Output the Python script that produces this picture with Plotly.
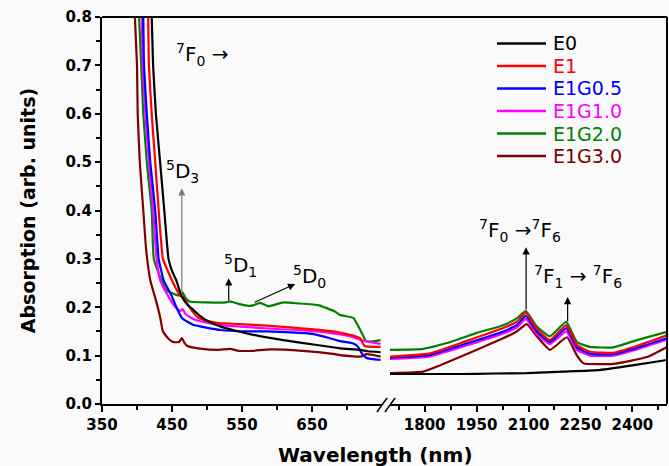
import plotly.graph_objects as go

# ---- series names and colours ----
series_names = ["E0", "E1", "E1G0.5", "E1G1.0", "E1G2.0", "E1G3.0"]
series_colors = ["#000000", "#ff0000", "#0000ff", "#ff00ff", "#008000", "#800000"]

# ---- visible region (nm, absorption) ----
e0_vis_nm = [421, 423, 427, 433, 439, 445, 450, 456, 464, 472, 480, 490, 500, 520, 537, 566, 609, 657, 690, 719, 730, 748]
e0_vis_abs = [0.80, 0.70, 0.60, 0.50, 0.40, 0.30, 0.275, 0.256, 0.222, 0.205, 0.195, 0.182, 0.172, 0.160, 0.153, 0.143, 0.132, 0.122, 0.115, 0.112, 0.109, 0.107]

e1_vis_nm = [416, 417, 421, 426, 431, 437, 444, 450, 456, 461, 464, 466, 473, 480, 488, 500, 514, 547, 585, 623, 680, 691, 712, 719, 725, 748]
e1_vis_abs = [0.80, 0.70, 0.60, 0.50, 0.40, 0.30, 0.275, 0.256, 0.238, 0.225, 0.222, 0.222, 0.205, 0.190, 0.178, 0.172, 0.168, 0.165, 0.162, 0.158, 0.150, 0.147, 0.140, 0.136, 0.120, 0.118]

e1g05_vis_nm = [409, 410, 414, 419, 426, 431, 438, 450, 455, 464, 480, 519, 557, 586, 620, 650, 676, 690, 709, 716, 721, 728, 748]
e1g05_vis_abs = [0.80, 0.70, 0.60, 0.50, 0.40, 0.30, 0.256, 0.222, 0.204, 0.178, 0.164, 0.153, 0.150, 0.150, 0.148, 0.145, 0.136, 0.130, 0.125, 0.118, 0.105, 0.095, 0.091]

e1g10_vis_nm = [407, 408, 412, 417, 423, 428, 433, 445, 455, 462, 465, 470, 483, 514, 547, 600, 640, 680, 704, 720, 748]
e1g10_vis_abs = [0.80, 0.70, 0.60, 0.50, 0.40, 0.30, 0.256, 0.222, 0.200, 0.192, 0.196, 0.185, 0.174, 0.164, 0.160, 0.155, 0.152, 0.146, 0.140, 0.132, 0.124]

e1g20_vis_nm = [403, 406, 409, 414, 421, 424, 435, 442, 457, 462, 465, 469, 475, 500, 527, 533, 545, 560, 566, 576, 588, 609, 630, 660, 683, 690, 709, 719, 728, 748]
e1g20_vis_abs = [0.80, 0.70, 0.60, 0.50, 0.40, 0.30, 0.256, 0.235, 0.225, 0.225, 0.231, 0.220, 0.212, 0.210, 0.210, 0.212, 0.207, 0.203, 0.204, 0.209, 0.202, 0.210, 0.208, 0.204, 0.191, 0.184, 0.178, 0.153, 0.129, 0.132]

e1g30_vis_nm = [397, 400, 401, 404, 409, 413, 419, 428, 433, 437, 445, 452, 460, 464, 468, 472, 493, 515, 533, 545, 566, 590, 636, 683, 690, 719, 728, 748]
e1g30_vis_abs = [0.80, 0.70, 0.60, 0.50, 0.40, 0.32, 0.256, 0.209, 0.180, 0.150, 0.135, 0.128, 0.128, 0.136, 0.126, 0.120, 0.114, 0.112, 0.114, 0.110, 0.110, 0.113, 0.110, 0.103, 0.101, 0.098, 0.103, 0.098]

# ---- near-infrared region (nm, absorption) ----
e0_nir_nm = [1700, 1800, 1900, 2000, 2095, 2200, 2300, 2400, 2500]
e0_nir_abs = [0.062, 0.062, 0.062, 0.063, 0.064, 0.067, 0.070, 0.080, 0.091]

e1_nir_nm = [1700, 1812, 1916, 2027, 2066, 2092, 2124, 2162, 2209, 2240, 2278, 2345, 2413, 2500]
e1_nir_abs = [0.098, 0.104, 0.129, 0.157, 0.170, 0.189, 0.155, 0.132, 0.163, 0.122, 0.108, 0.106, 0.120, 0.142]

e1g05_nir_nm = [1700, 1812, 1916, 2027, 2066, 2092, 2124, 2162, 2209, 2240, 2278, 2345, 2413, 2500]
e1g05_nir_abs = [0.096, 0.101, 0.124, 0.150, 0.163, 0.182, 0.150, 0.128, 0.157, 0.117, 0.104, 0.103, 0.116, 0.136]

e1g10_nir_nm = [1700, 1812, 1916, 2027, 2066, 2092, 2124, 2162, 2209, 2240, 2278, 2345, 2413, 2500]
e1g10_nir_abs = [0.093, 0.098, 0.120, 0.146, 0.158, 0.176, 0.145, 0.124, 0.150, 0.112, 0.100, 0.100, 0.113, 0.133]

e1g20_nir_nm = [1700, 1796, 1864, 1951, 2027, 2066, 2092, 2124, 2162, 2209, 2240, 2278, 2345, 2413, 2500]
e1g20_nir_abs = [0.112, 0.114, 0.126, 0.147, 0.163, 0.177, 0.192, 0.160, 0.140, 0.170, 0.128, 0.118, 0.117, 0.132, 0.149]

e1g30_nir_nm = [1700, 1796, 1845, 1951, 2027, 2066, 2095, 2124, 2162, 2211, 2240, 2259, 2345, 2442, 2500]
e1g30_nir_abs = [0.064, 0.067, 0.080, 0.112, 0.136, 0.150, 0.165, 0.140, 0.112, 0.138, 0.100, 0.084, 0.083, 0.097, 0.118]

vis_nm = [e0_vis_nm, e1_vis_nm, e1g05_vis_nm, e1g10_vis_nm, e1g20_vis_nm, e1g30_vis_nm]
vis_abs = [e0_vis_abs, e1_vis_abs, e1g05_vis_abs, e1g10_vis_abs, e1g20_vis_abs, e1g30_vis_abs]
nir_nm = [e0_nir_nm, e1_nir_nm, e1g05_nir_nm, e1g10_nir_nm, e1g20_nir_nm, e1g30_nir_nm]
nir_abs = [e0_nir_abs, e1_nir_abs, e1g05_nir_abs, e1g10_nir_abs, e1g20_nir_abs, e1g30_nir_abs]

# axis ticks
vis_ticks = [350, 450, 550, 650]
nir_ticks = [1800, 1950, 2100, 2250, 2400]

BOLD = "DejaVu Sans"
TXT = "DejaVu Sans"

fig = go.Figure()

# draw so that E0 ends up on top of the stack
order = [5, 4, 3, 2, 1, 0]
for i in order:
    line = dict(color=series_colors[i], width=2.2, shape="spline", smoothing=0.4)
    fig.add_trace(go.Scatter(x=vis_nm[i], y=vis_abs[i], mode="lines", line=line,
                             name=series_names[i], xaxis="x", yaxis="y", showlegend=False))
    fig.add_trace(go.Scatter(x=nir_nm[i], y=nir_abs[i], mode="lines", line=line,
                             name=series_names[i], xaxis="x2", yaxis="y", showlegend=False))

# plot area in pixels: left 102, right 667, top 17, bottom 404
W, H = 669, 466
L, R, T, B = 102, 2, 17, 62
PW = W - L - R
PH = H - T - B


def px(xp):
    return (xp - L) / PW


def py(yp):
    return (H - B - yp) / PH


axis_common = dict(showline=True, linecolor="black", linewidth=2, ticks="outside",
                   tickcolor="black", tickwidth=2, ticklen=6, showgrid=False, zeroline=False,
                   tickfont=dict(family=BOLD, size=15, color="black", weight="bold"))

fig.update_layout(
    width=W, height=H,
    margin=dict(l=L, r=R, t=T, b=B),
    paper_bgcolor="#fafafa", plot_bgcolor="#fafafa",
    showlegend=False,
    xaxis=dict(domain=[0, px(382)], range=[350, 750], tickvals=vis_ticks, anchor="y",
               minor=dict(tick0=400, dtick=100, ticks="outside", ticklen=4, tickwidth=2, tickcolor="black"),
               **axis_common),
    xaxis2=dict(domain=[px(390), 1], range=[1700, 2500], tickvals=nir_ticks, anchor="y",
                minor=dict(tick0=1725, dtick=150, ticks="outside", ticklen=4, tickwidth=2, tickcolor="black"),
                **axis_common),
    yaxis=dict(range=[0, 0.8], dtick=0.1, tickformat=".1f", anchor="x",
               minor=dict(dtick=0.05, ticks="outside", ticklen=4, tickwidth=2, tickcolor="black"),
               title=dict(text="Absorption (arb. units)", standoff=25,
                          font=dict(family=BOLD, size=19, color="black", weight="bold")),
               **{k: v for k, v in axis_common.items() if k != "ticklen"}, ticklen=5),
)

shapes = []
# frame: top and right edges
shapes.append(dict(type="line", xref="paper", yref="paper", x0=0, x1=1, y0=1, y1=1,
                   line=dict(color="black", width=2)))
shapes.append(dict(type="line", xref="paper", yref="paper", x0=1, x1=1, y0=0, y1=1,
                   line=dict(color="black", width=2)))
# axis break marks
for x0 in (377, 385):
    shapes.append(dict(type="line", xref="paper", yref="paper",
                       x0=px(x0), y0=py(412), x1=px(x0 + 10), y1=py(398),
                       line=dict(color="black", width=1.5)))

# legend drawn as short line segments with coloured labels
legend_rows = [43.5, 66, 88.5, 111, 133.5, 156]
annotations = []
for i, yrow in enumerate(legend_rows):
    shapes.append(dict(type="line", xref="paper", yref="paper", x0=px(497), x1=px(546),
                       y0=py(yrow), y1=py(yrow), line=dict(color=series_colors[i], width=2.5)))
    annotations.append(dict(xref="paper", yref="paper", x=px(551), y=py(yrow), text=series_names[i],
                            showarrow=False, xanchor="left", yanchor="middle",
                            font=dict(family=TXT, size=19, color=series_colors[i])))

# x axis title spanning both segments
annotations.append(dict(xref="paper", yref="paper", x=px(375), y=py(455), text="Wavelength (nm)",
                        showarrow=False, xanchor="center", yanchor="middle",
                        font=dict(family=BOLD, size=20, color="black", weight="bold")))

lab_font = dict(family=TXT, size=20, color="black")
labels = [
    ("x", 453, 0.722, "<sup>7</sup>F<sub>0</sub> →"),
    ("x", 439, 0.481, "<sup>5</sup>D<sub>3</sub>"),
    ("x", 521, 0.287, "<sup>5</sup>D<sub>1</sub>"),
    ("x", 620, 0.264, "<sup>5</sup>D<sub>0</sub>"),
    ("x2", 1950, 0.359, "<sup>7</sup>F<sub>0</sub> →<sup>7</sup>F<sub>6</sub>"),
    ("x2", 2110, 0.264, "<sup>7</sup>F<sub>1</sub> → <sup>7</sup>F<sub>6</sub>"),
]
for xr, xv, yv, txt in labels:
    annotations.append(dict(xref=xr, yref="y", x=xv, y=yv, text=txt, showarrow=False,
                            xanchor="left", yanchor="middle", font=lab_font))

# arrows: (axis, head x, head y, tail x, tail y, colour)
arrows = [
    ("x", 464, 0.446, 464, 0.226, "#7f7f7f"),
    ("x", 531, 0.260, 531, 0.211, "black"),
    ("x", 626, 0.248, 566, 0.209, "black"),
    ("x2", 2093, 0.324, 2093, 0.192, "black"),
    ("x2", 2213, 0.221, 2213, 0.168, "black"),
]
for xr, hx, hy, tx, ty, col in arrows:
    annotations.append(dict(xref=xr, yref="y", x=hx, y=hy, axref=xr, ayref="y", ax=tx, ay=ty,
                            text="", showarrow=True, arrowhead=2, arrowsize=1.2, arrowwidth=1.2,
                            arrowcolor=col, standoff=0, startstandoff=0))

fig.update_layout(shapes=shapes, annotations=annotations)

fig.write_html("out.html")
